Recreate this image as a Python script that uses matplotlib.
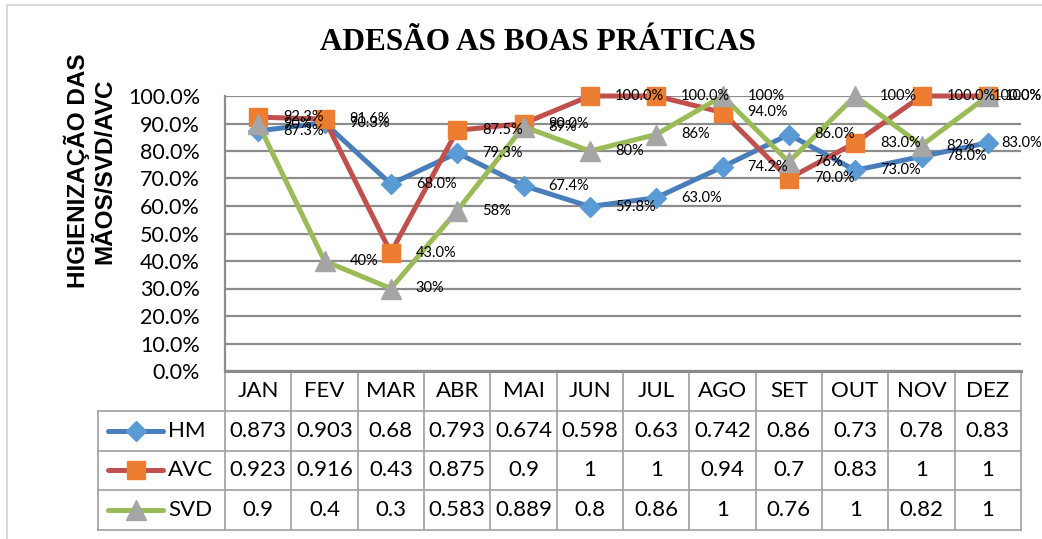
import numpy as np
import matplotlib
matplotlib.use("Agg")
import matplotlib.pyplot as plt
from matplotlib.lines import Line2D
from matplotlib.ticker import PercentFormatter

plt.rcParams["font.family"] = ["Lato", "DejaVu Sans"]

months = ["JAN", "FEV", "MAR", "ABR", "MAI", "JUN", "JUL", "AGO", "SET", "OUT", "NOV", "DEZ"]
hm  = [0.873, 0.903, 0.68, 0.793, 0.674, 0.598, 0.63, 0.742, 0.86, 0.73, 0.78, 0.83]
avc = [0.923, 0.916, 0.43, 0.875, 0.9, 1, 1, 0.94, 0.7, 0.83, 1, 1]
svd = [0.9, 0.4, 0.3, 0.583, 0.889, 0.8, 0.86, 1, 0.76, 1, 0.82, 1]

series = [
    # name, values, line colour, marker, marker colour, marker size, label decimals
    ("HM",  hm,  "#4A7EBB", "D", "#5B9BD5", 10, 1),
    ("AVC", avc, "#C0504D", "s", "#ED7D31", 13, 1),
    ("SVD", svd, "#9BBB59", "^", "#A5A5A5", 15, 0),
]

W, H = 1042, 539
fig = plt.figure(figsize=(W / 100, H / 100), dpi=100)

def fx(px): return px / W
def fy(py): return 1 - py / H

# plot area in pixel coords of the reference
x0, x1, ytop, ybot = 225, 1021, 96, 371
ax = fig.add_axes([fx(x0), fy(ybot), fx(x1) - fx(x0), fy(ytop) - fy(ybot)])
x = np.arange(len(months))
ax.set_xlim(-0.5, len(months) - 0.5)
ax.set_ylim(0, 1)
ax.set_yticks(np.arange(0, 1.01, 0.1))
ax.yaxis.set_major_formatter(PercentFormatter(1.0, decimals=1))
ax.tick_params(axis="y", length=0, pad=18, labelsize=15.5)
ax.set_xticks([])
ax.grid(axis="y", color="#8C8C8C", lw=1.6)
ax.set_axisbelow(True)
for s in ["top", "right", "bottom"]:
    ax.spines[s].set_visible(False)
ax.spines["left"].set_color("#8C8C8C")
ax.spines["left"].set_linewidth(1.6)

for name, vals, lc, mk, mc, ms, dec in series:
    ax.plot(x, vals, color=lc, lw=3.6, marker=mk, markersize=ms,
            markerfacecolor=mc, markeredgecolor=mc, zorder=3, clip_on=False)
for name, vals, lc, mk, mc, ms, dec in series:
    for xi, v in zip(x, vals):
        txt = f"{v * 100:.{dec}f}%"
        if xi == len(months) - 1:
            # last labels are pushed back inside the chart edge
            ax.annotate(txt, (1.0, v), xycoords=("figure fraction", "data"),
                        ha="right", va="center", fontsize=10.5, zorder=5,
                        annotation_clip=False)
        else:
            ax.annotate(txt, (xi, v), xytext=(18, 0), textcoords="offset points",
                        ha="left", va="center", fontsize=10.5, zorder=5,
                        annotation_clip=False)

# data table below the plot
tleft, tbot = 98, 530
colw = (x1 - x0) / len(months)
tx0 = -0.5 - (x0 - tleft) / colw
tab = fig.add_axes([fx(tleft), fy(tbot), fx(x1) - fx(tleft), fy(ybot) - fy(tbot)])
tab.set_xlim(tx0, len(months) - 0.5)
tab.set_ylim(4, 0)
tab.axis("off")
gc, glw = "#A6A6A6", 1.3
for k in range(len(months) + 1):
    tab.plot([k - 0.5, k - 0.5], [0, 4], color=gc, lw=glw, clip_on=False)
tab.plot([tx0, tx0], [1, 4], color=gc, lw=glw, clip_on=False)
tab.plot([-0.5, len(months) - 0.5], [0, 0], color="#8C8C8C", lw=2.2, clip_on=False)
for r in range(1, 5):
    tab.plot([tx0, len(months) - 0.5], [r, r], color=gc, lw=glw, clip_on=False)

for i, m in enumerate(months):
    tab.text(i, 0.5, m, ha="center", va="center", fontsize=16)
lx0 = -0.5 - (x0 - 108) / colw
lx1 = -0.5 - (x0 - 163) / colw
ltx = -0.5 - (x0 - 168) / colw
for r, (name, vals, lc, mk, mc, ms, dec) in enumerate(series, start=1):
    tab.plot([lx0, lx1], [r + 0.5, r + 0.5], color=lc, lw=3.6,
             solid_capstyle="round", clip_on=False)
    tab.plot([(lx0 + lx1) / 2], [r + 0.5], marker=mk, markersize=ms,
             color=mc, clip_on=False)
    tab.text(ltx, r + 0.5, name, ha="left", va="center", fontsize=16)
    for i, v in enumerate(vals):
        tab.text(i, r + 0.5, f"{v:g}", ha="center", va="center", fontsize=16)

fig.text(fx(538), fy(42), "ADESÃO AS BOAS PRÁTICAS", ha="center", va="center",
         fontsize=22.5, fontweight="bold", family="Liberation Serif")
fig.text(fx(90), fy(171), "HIGIENIZAÇÃO DAS\nMÃOS/SVD/AVC", ha="center",
         va="center", rotation=90, fontsize=17.5, fontweight="bold",
         family=["Liberation Sans", "DejaVu Sans"], linespacing=1.2,
         multialignment="center")

# outer chart border
fig.add_artist(Line2D([fx(7), fx(7)], [0, fy(5)], color="#D9D9D9", lw=1.5))
fig.add_artist(Line2D([fx(7), 1], [fy(5), fy(5)], color="#D9D9D9", lw=1.5))

fig.savefig("out.png", dpi=100)
